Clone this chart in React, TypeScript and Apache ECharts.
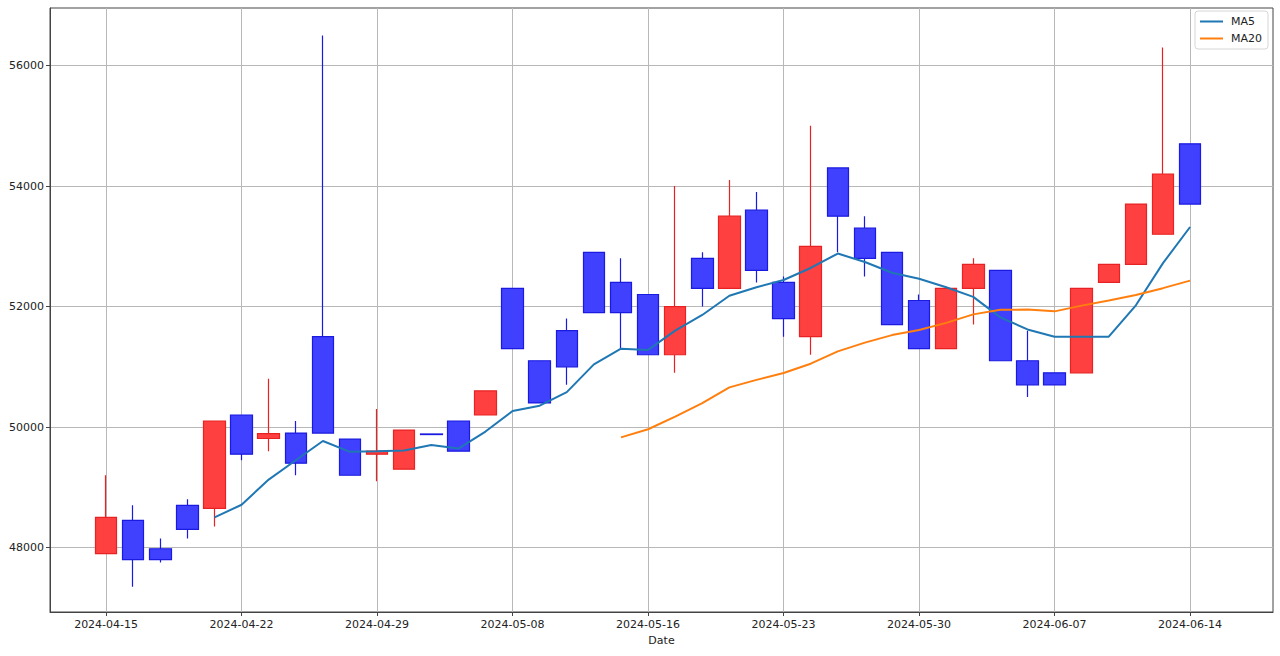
import React, { useEffect, useRef } from 'react';
import * as echarts from 'echarts';

const dates = [
  '2024-04-15', '2024-04-16', '2024-04-17', '2024-04-18', '2024-04-19',
  '2024-04-22', '2024-04-23', '2024-04-24', '2024-04-25', '2024-04-26',
  '2024-04-29', '2024-04-30', '2024-05-02', '2024-05-03', '2024-05-07',
  '2024-05-08', '2024-05-09', '2024-05-10', '2024-05-13', '2024-05-14',
  '2024-05-16', '2024-05-17', '2024-05-20', '2024-05-21', '2024-05-22',
  '2024-05-23', '2024-05-24', '2024-05-27', '2024-05-28', '2024-05-29',
  '2024-05-30', '2024-05-31', '2024-06-03', '2024-06-04', '2024-06-05',
  '2024-06-07', '2024-06-10', '2024-06-11', '2024-06-12', '2024-06-13',
  '2024-06-14',
];

const opens = [
  47900, 48450, 47980, 48700, 48650, 50200, 49810, 49900, 51500, 49800,
  49550, 49300, 49885, 50100, 50200, 52300, 51100, 51600, 52900, 52400,
  52200, 51200, 52800, 52300, 53600, 52400, 51500, 54300, 53300, 52900,
  52100, 51300, 52300, 52600, 51100, 50900, 50900, 52400, 52700, 53200,
  54700,
];

const closes = [
  48500, 47800, 47800, 48300, 50100, 49550, 49890, 49400, 49900, 49200,
  49600, 49950, 49875, 49600, 50600, 51300, 50400, 51000, 51900, 51900,
  51200, 52000, 52300, 53500, 52600, 51800, 53000, 53500, 52800, 51700,
  51300, 52300, 52700, 51100, 50700, 50700, 52300, 52700, 53700, 54200,
  53700,
];

const lows = [
  47900, 47350, 47750, 48150, 48350, 49450, 49600, 49200, 49900, 49200,
  49100, 49300, 49875, 49600, 50200, 51300, 50400, 50700, 51900, 51300,
  51200, 50900, 52000, 52300, 52400, 51500, 51200, 52900, 52500, 51700,
  51300, 51300, 51700, 51100, 50500, 50700, 50900, 52400, 52700, 53200,
  53700,
];

const highs = [
  49200, 48700, 48150, 48800, 50100, 50200, 50800, 50100, 56500, 49800,
  50300, 49950, 49885, 50100, 50600, 52300, 51100, 51800, 52900, 52800,
  52200, 54000, 52900, 54100, 53900, 52500, 55000, 54300, 53500, 52900,
  52200, 52300, 52800, 52600, 51600, 50900, 52300, 52700, 53700, 56300,
  54700,
];

const ma5 = [
  null, null, null, null, 48500, 48710, 49128, 49448, 49768, 49588,
  49598, 49610, 49703, 49643, 49925, 50265, 50355, 50580, 51040, 51300,
  51280, 51600, 51860, 52180, 52320, 52440, 52640, 52880, 52740, 52560,
  52460, 52320, 52160, 51820, 51620, 51500, 51500, 51500, 52020, 52720,
  53320,
];

const ma20 = [
  null, null, null, null, null, null, null, null, null, null,
  null, null, null, null, null, null, null, null, null, 49828,
  49963, 50173, 50398, 50658, 50783, 50896, 51051, 51256, 51401, 51526,
  51611, 51729, 51870, 51945, 51950, 51920, 52015, 52100, 52190, 52305,
  52430,
];

const xTickIdx = [0, 5, 10, 15, 20, 25, 30, 35, 40];
const yTicks = [48000, 50000, 52000, 54000, 56000];

export default function App() {
  const ref = useRef<HTMLDivElement>(null);

  useEffect(() => {
    document.body.style.margin = '0';
    const chart = echarts.init(ref.current!, null, { renderer: 'svg' });
    const font = 'DejaVu Sans';
    const textColor = '#222';
    const spine = '#444';
    const gridColor = '#b8b8b8';

    const candleData = dates.map((_, i) => [i, opens[i], closes[i], lows[i], highs[i]]);
    const ma5Data = ma5
      .map((v, i) => (v == null ? null : [i, v]))
      .filter((p) => p !== null);
    const ma20Data = ma20
      .map((v, i) => (v == null ? null : [i, v]))
      .filter((p) => p !== null);

    chart.setOption({
      animation: false,
      backgroundColor: '#ffffff',
      grid: {
        left: 50,
        right: 7,
        top: 8,
        bottom: 44,
        show: true,
        borderColor: spine,
        borderWidth: 1,
        backgroundColor: 'transparent',
      },
      legend: {
        orient: 'vertical',
        right: 12,
        top: 11,
        icon: 'rect',
        itemWidth: 23,
        itemHeight: 2,
        itemGap: 6,
        padding: [5, 6, 5, 5],
        borderColor: '#d6d6d6',
        borderWidth: 1,
        borderRadius: 3,
        backgroundColor: 'rgba(255,255,255,0.85)',
        textStyle: { fontFamily: font, fontSize: 11, color: textColor, padding: [0, 0, 0, 3] },
        data: ['MA5', 'MA20'],
      },
      xAxis: {
        type: 'value',
        min: -2.07,
        max: 43.06,
        name: 'Date',
        nameLocation: 'middle',
        nameGap: 23,
        nameTextStyle: { fontFamily: font, fontSize: 11, color: textColor },
        axisLine: { show: true, onZero: false, lineStyle: { color: spine, width: 1 } },
        axisTick: {
          show: true,
          customValues: xTickIdx,
          length: 4,
          lineStyle: { color: spine },
        },
        axisLabel: {
          customValues: xTickIdx,
          formatter: (v: number) => dates[Math.round(v)] ?? '',
          fontFamily: font,
          fontSize: 11,
          color: textColor,
          margin: 7,
        },
        splitLine: { show: true, lineStyle: { color: gridColor, width: 1 } },
      },
      yAxis: {
        type: 'value',
        min: 46930,
        max: 56955,
        axisLine: { show: true, onZero: false, lineStyle: { color: spine, width: 1 } },
        axisTick: {
          show: true,
          customValues: yTicks,
          length: 4,
          lineStyle: { color: spine },
        },
        axisLabel: {
          customValues: yTicks,
          formatter: (v: number) => String(v),
          fontFamily: font,
          fontSize: 11,
          color: textColor,
          margin: 6,
        },
        splitLine: { show: true, lineStyle: { color: gridColor, width: 1 } },
      },
      series: [
        {
          name: 'OHLC',
          type: 'candlestick',
          data: candleData,
          barWidth: 22,
          itemStyle: {
            color: '#ff4040',
            color0: '#4040ff',
            borderColor: '#e82222',
            borderColor0: '#1a1ae0',
            borderWidth: 1.2,
          },
          z: 2,
        },
        {
          name: 'MA5',
          type: 'line',
          data: ma5Data,
          symbol: 'none',
          showSymbol: false,
          lineStyle: { color: '#1f77b4', width: 2 },
          itemStyle: { color: '#1f77b4' },
          z: 3,
        },
        {
          name: 'MA20',
          type: 'line',
          data: ma20Data,
          symbol: 'none',
          showSymbol: false,
          lineStyle: { color: '#ff7f0e', width: 2 },
          itemStyle: { color: '#ff7f0e' },
          z: 3,
        },
      ],
    });

    return () => {
      chart.dispose();
    };
  }, []);

  return <div ref={ref} style={{ width: 1280, height: 656 }} />;
}
